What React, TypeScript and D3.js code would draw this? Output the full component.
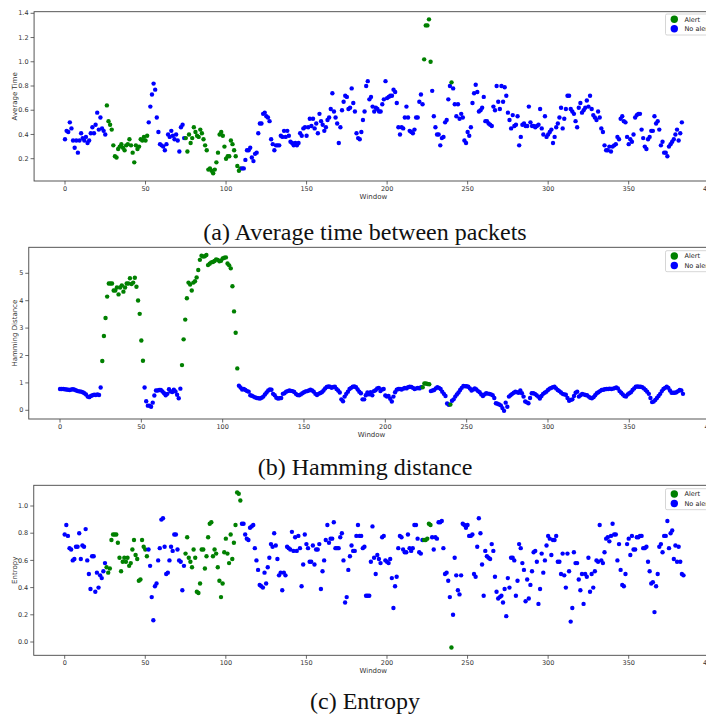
import React, { useEffect, useRef } from "react";
import * as d3 from "d3";

// values read per window from the three panels
const avgTime = [
  0.36, 0.43, 0.42, 0.50, 0.45, 0.35, 0.29, 0.35, 0.25, 0.35,
  0.41, 0.37, 0.35, 0.38, 0.33, 0.35, 0.41, 0.46, 0.41, 0.48,
  0.58, 0.44, 0.54, 0.45, 0.43, 0.40, 0.64, 0.51, 0.48, 0.44,
  0.31, 0.22, 0.21, 0.28, 0.30, 0.32, 0.29, 0.27, 0.31, 0.32,
  0.36, 0.31, 0.25, 0.17, 0.31, 0.28, 0.30, 0.36, 0.35, 0.38,
  0.35, 0.39, 0.50, 0.63, 0.73, 0.82, 0.77, 0.54, 0.42, 0.32,
  0.31, 0.30, 0.27, 0.32, 0.40, 0.38, 0.43, 0.39, 0.36, 0.40,
  0.35, 0.26, 0.46, 0.48, 0.37, 0.37, 0.26, 0.40, 0.33, 0.37,
  0.46, 0.42, 0.39, 0.38, 0.44, 0.41, 0.36, 0.31, 0.27, 0.11,
  0.12, 0.10, 0.08, 0.11, 0.17, 0.25, 0.40, 0.42, 0.39, 0.30,
  0.20, 0.22, 0.22, 0.35, 0.32, 0.27, 0.22, 0.14, 0.10, 0.12,
  0.12, 0.12, 0.19, 0.27, 0.27, 0.29, 0.21, 0.18, 0.24, 0.25,
  0.41, 0.49, 0.49, 0.57, 0.58, 0.55, 0.54, 0.51, 0.36, 0.32,
  0.27, 0.31, 0.31, 0.31, 0.39, 0.38, 0.43, 0.38, 0.43, 0.39,
  0.34, 0.33, 0.31, 0.33, 0.31, 0.33, 0.41, 0.39, 0.45, 0.46,
  0.39, 0.46, 0.53, 0.47, 0.53, 0.45, 0.49, 0.41, 0.57, 0.51,
  0.48, 0.43, 0.46, 0.52, 0.54, 0.61, 0.74, 0.59, 0.54, 0.49,
  0.33, 0.46, 0.60, 0.67, 0.72, 0.71, 0.61, 0.62, 0.78, 0.66,
  0.59, 0.41, 0.37, 0.36, 0.42, 0.52, 0.59, 0.80, 0.84, 0.69,
  0.71, 0.63, 0.59, 0.62, 0.61, 0.59, 0.59, 0.65, 0.69, 0.84,
  0.70, 0.71, 0.72, 0.72, 0.77, 0.75, 0.66, 0.46, 0.40, 0.46,
  0.45, 0.54, 0.63, 0.54, 0.43, 0.42, 0.41, 0.44, 0.54, 0.54,
  0.67, 0.73, 0.65, 1.02, 1.30, 1.30, 1.35, 1.00, 0.76, 0.55,
  0.46, 0.40, 0.40, 0.31, 0.37, 0.38, 0.50, 0.52, 0.69, 0.80,
  0.83, 0.78, 0.65, 0.55, 0.65, 0.53, 0.57, 0.54, 0.35, 0.33,
  0.42, 0.39, 0.46, 0.66, 0.74, 0.81, 0.75, 0.59, 0.60, 0.62,
  0.71, 0.51, 0.51, 0.49, 0.48, 0.47, 0.63, 0.60, 0.80, 0.67,
  0.61, 0.80, 0.67, 0.79, 0.72, 0.58, 0.52, 0.45, 0.56, 0.47,
  0.48, 0.55, 0.31, 0.38, 0.48, 0.49, 0.47, 0.47, 0.63, 0.50,
  0.47, 0.47, 0.46, 0.47, 0.48, 0.61, 0.45, 0.40, 0.55, 0.38,
  0.40, 0.42, 0.44, 0.33, 0.38, 0.46, 0.49, 0.54, 0.62, 0.45,
  0.53, 0.61, 0.72, 0.72, 0.61, 0.59, 0.57, 0.51, 0.46, 0.62,
  0.66, 0.58, 0.60, 0.62, 0.68, 0.63, 0.72, 0.61, 0.56, 0.54,
  0.52, 0.59, 0.54, 0.45, 0.42, 0.31, 0.27, 0.27, 0.30, 0.26,
  0.30, 0.31, 0.32, 0.38, 0.36, 0.53, 0.55, 0.51, 0.50, 0.38,
  0.32, 0.36, 0.34, 0.40, 0.54, 0.56, 0.57, 0.57, 0.44, 0.37,
  0.30, 0.28, 0.36, 0.38, 0.43, 0.43, 0.55, 0.49, 0.51, 0.44,
  0.31, 0.34, 0.25, 0.25, 0.22, 0.30, 0.32, 0.34, 0.36, 0.40,
  0.44, 0.35, 0.41, 0.50,
];

const hamming = [
  0.78, 0.78, 0.78, 0.77, 0.76, 0.75, 0.74, 0.76, 0.77, 0.75,
  0.72, 0.70, 0.69, 0.68, 0.66, 0.62, 0.58, 0.50, 0.48, 0.52,
  0.55, 0.57, 0.56, 0.58, 0.56, 0.83, 1.80, 2.71, 3.37, 4.15,
  4.63, 4.63, 4.63, 4.37, 4.37, 4.48, 4.23, 4.48, 4.56, 4.33,
  4.48, 4.63, 4.63, 4.82, 4.61, 4.66, 4.84, 4.51, 4.01, 3.52,
  2.55, 1.81, 0.83, 0.33, 0.17, 0.17, 0.13, 0.28, 0.54, 0.72,
  0.72, 0.74, 0.74, 0.69, 0.62, 0.55, 0.60, 0.77, 0.69, 0.67,
  0.75, 0.69, 0.57, 0.44, 0.79, 1.65, 2.59, 3.31, 4.09, 4.66,
  4.59, 4.37, 4.66, 4.71, 4.85, 5.12, 5.49, 5.64, 5.61, 5.62,
  5.67, 5.30, 5.35, 5.40, 5.41, 5.45, 5.51, 5.49, 5.44, 5.46,
  5.54, 5.57, 5.58, 5.36, 5.29, 5.18, 4.53, 3.61, 2.83, 1.53,
  0.90, 0.83, 0.76, 0.78, 0.74, 0.70, 0.68, 0.55, 0.53, 0.50,
  0.47, 0.45, 0.44, 0.43, 0.46, 0.50, 0.58, 0.65, 0.72, 0.76,
  0.75, 0.60, 0.55, 0.46, 0.43, 0.44, 0.45, 0.60, 0.62, 0.68,
  0.70, 0.72, 0.71, 0.70, 0.67, 0.60, 0.56, 0.55, 0.58, 0.62,
  0.66, 0.69, 0.70, 0.72, 0.75, 0.72, 0.68, 0.60, 0.56, 0.60,
  0.63, 0.66, 0.72, 0.80, 0.85, 0.87, 0.86, 0.82, 0.85, 0.86,
  0.78, 0.72, 0.65, 0.40, 0.33, 0.50, 0.60, 0.68, 0.78, 0.82,
  0.86, 0.87, 0.84, 0.76, 0.68, 0.62, 0.40, 0.40, 0.55, 0.65,
  0.58, 0.66, 0.55, 0.70, 0.73, 0.80, 0.82, 0.70, 0.76, 0.78,
  0.54, 0.50, 0.52, 0.42, 0.32, 0.50, 0.66, 0.75, 0.78, 0.78,
  0.76, 0.79, 0.82, 0.80, 0.84, 0.86, 0.85, 0.82, 0.78, 0.80,
  0.82, 0.80, 0.84, 0.84, 0.98, 0.98, 0.96, 0.95, 0.70, 0.72,
  0.74, 0.80, 0.84, 0.82, 0.78, 0.68, 0.60, 0.52, 0.25, 0.20,
  0.21, 0.35, 0.40, 0.50, 0.58, 0.65, 0.74, 0.82, 0.89, 0.88,
  0.88, 0.86, 0.80, 0.72, 0.76, 0.80, 0.76, 0.70, 0.66, 0.58,
  0.52, 0.58, 0.62, 0.61, 0.60, 0.58, 0.55, 0.45, 0.26, 0.24,
  0.21, 0.18, 0.08, -0.02, 0.28, 0.13, 0.50, 0.55, 0.60, 0.64,
  0.68, 0.66, 0.64, 0.72, 0.62, 0.50, 0.32, 0.29, 0.26, 0.45,
  0.62, 0.62, 0.60, 0.55, 0.50, 0.43, 0.52, 0.60, 0.64, 0.68,
  0.74, 0.79, 0.82, 0.84, 0.86, 0.80, 0.74, 0.70, 0.65, 0.60,
  0.58, 0.57, 0.45, 0.35, 0.38, 0.40, 0.52, 0.64, 0.68, 0.50,
  0.55, 0.60, 0.58, 0.56, 0.55, 0.50, 0.46, 0.44, 0.48, 0.55,
  0.62, 0.66, 0.70, 0.74, 0.75, 0.77, 0.78, 0.78, 0.79, 0.78,
  0.79, 0.81, 0.83, 0.80, 0.70, 0.64, 0.58, 0.52, 0.50, 0.58,
  0.62, 0.66, 0.74, 0.80, 0.86, 0.87, 0.86, 0.86, 0.84, 0.80,
  0.74, 0.68, 0.60, 0.45, 0.30, 0.32, 0.38, 0.45, 0.52, 0.60,
  0.70, 0.78, 0.82, 0.86, 0.82, 0.72, 0.64, 0.64, 0.64, 0.66,
  0.70, 0.74, 0.72, 0.60,
];

const entropy = [
  0.79, 0.86, 0.78, 0.69, 0.68, 0.60, 0.61, 0.70, 0.70, 0.80,
  0.61, 0.71, 0.70, 0.83, 0.60, 0.50, 0.39, 0.63, 0.63, 0.37,
  0.51, 0.40, 0.49, 0.47, 0.52, 0.58, 0.55, 0.51, 0.54, 0.75,
  0.79, 0.79, 0.79, 0.73, 0.62, 0.52, 0.59, 0.62, 0.59, 0.62,
  0.56, 0.58, 0.68, 0.75, 0.64, 0.61, 0.45, 0.46, 0.75, 0.70,
  0.68, 0.63, 0.68, 0.56, 0.33, 0.16, 0.41, 0.43, 0.60, 0.69,
  0.90, 0.91, 0.70, 0.50, 0.51, 0.60, 0.70, 0.67, 0.79, 0.79,
  0.68, 0.60, 0.59, 0.38, 0.56, 0.65, 0.77, 0.62, 0.59, 0.55,
  0.68, 0.62, 0.37, 0.36, 0.43, 0.68, 0.68, 0.54, 0.63, 0.77,
  0.87, 0.88, 0.63, 0.68, 0.65, 0.55, 0.45, 0.33, 0.43, 0.66,
  0.76, 0.65, 0.58, 0.79, 0.61, 0.73, 0.86, 1.10, 1.09, 1.04,
  0.87, 0.87, 0.79, 0.76, 0.75, 0.84, 0.85, 0.86, 0.69, 0.60,
  0.53, 0.42, 0.41, 0.40, 0.51, 0.43, 0.55, 0.62, 0.72, 0.70,
  0.80, 0.71, 0.61, 0.49, 0.51, 0.38, 0.51, 0.49, 0.70, 0.69,
  0.68, 0.81, 0.67, 0.77, 0.67, 0.78, 0.69, 0.41, 0.57, 0.79,
  0.72, 0.69, 0.59, 0.59, 0.71, 0.57, 0.68, 0.68, 0.72, 0.39,
  0.52, 0.60, 0.75, 0.86, 0.73, 0.76, 0.76, 0.88, 0.69, 0.69,
  0.69, 0.77, 0.80, 0.60, 0.29, 0.33, 0.53, 0.63, 0.71, 0.67,
  0.67, 0.78, 0.86, 0.78, 0.78, 0.69, 0.70, 0.34, 0.34, 0.34,
  0.59, 0.85, 0.62, 0.50, 0.64, 0.61, 0.58, 0.77, 0.78, 0.60,
  0.59, 0.58, 0.61, 0.47, 0.25, 0.41, 0.48, 0.69, 0.78, 0.77,
  0.68, 0.66, 0.66, 0.79, 0.69, 0.67, 0.69, 0.86, 0.86, 0.76,
  0.66, 0.65, 0.75, 0.75, 0.75, 0.76, 0.87, 0.86, 0.77, 0.68,
  0.77, 0.76, 0.88, 0.88, 0.89, 0.69, 0.50, 0.51, 0.45, 0.33,
  -0.04, 0.20, 0.62, 0.49, 0.38, 0.35, 0.49, 0.87, 0.86, 0.84,
  0.86, 0.78, 0.78, 0.79, 0.50, 0.48, 0.70, 0.91, 0.80, 0.57,
  0.34, 0.67, 0.63, 0.62, 0.61, 0.72, 0.67, 0.48, 0.37, 0.32,
  0.33, 0.34, 0.29, 0.39, 0.19, 0.47, 0.40, 0.62, 0.62, 0.60,
  0.34, 0.45, 0.72, 0.69, 0.58, 0.53, 0.30, 0.46, 0.32, 0.42,
  0.52, 0.66, 0.67, 0.59, 0.28, 0.39, 0.65, 0.51, 0.60, 0.71,
  0.78, 0.76, 0.64, 0.75, 0.75, 0.78, 0.59, 0.59, 0.50, 0.65,
  0.49, 0.40, 0.65, 0.52, 0.15, 0.25, 0.66, 0.58, 0.58, 0.46,
  0.38, 0.50, 0.28, 0.50, 0.48, 0.62, 0.37, 0.50, 0.40, 0.52,
  0.60, 0.59, 0.86, 0.60, 0.58, 0.66, 0.76, 0.77, 0.74, 0.78,
  0.87, 0.79, 0.79, 0.60, 0.72, 0.53, 0.42, 0.41, 0.50, 0.72,
  0.76, 0.64, 0.78, 0.68, 0.68, 0.77, 0.77, 0.78, 0.78, 0.69,
  0.69, 0.70, 0.59, 0.52, 0.43, 0.44, 0.22, 0.41, 0.50, 0.70,
  0.72, 0.66, 0.78, 0.78, 0.89, 0.69, 0.80, 0.82, 0.61, 0.71,
  0.59, 0.70, 0.59, 0.50, 0.49,
];

// windows flagged as alerts (inclusive ranges)
const alertRanges = [[26, 51], [75, 109], [223, 227], [240, 240]];

const xTicks = [0, 50, 100, 150, 200, 250, 300, 350, 400];
const avgTicks = [0.2, 0.4, 0.6, 0.8, 1.0, 1.2, 1.4];
const hamTicks = [0, 1, 2, 3, 4, 5];
const entTicks = [0.0, 0.2, 0.4, 0.6, 0.8, 1.0];
const legendLabels = ["Alert", "No alert"];
const yLabels = ["Average Time", "Hamming Distance", "Entropy"];
const captions = ["(a) Average time between packets", "(b) Hamming distance", "(c) Entropy"];

const GREEN = "#008000";
const BLUE = "#0000ff";

const isAlert = (i: number) => alertRanges.some(([a, b]) => i >= a && i <= b);

const App = () => {
  const svgRef = useRef<SVGSVGElement>(null);

  useEffect(() => {
    const svg = d3.select(svgRef.current);
    svg.selectAll("*").remove();

    const panels = [
      { values: avgTime, ticks: avgTicks, fmt: d3.format(".1f"), x0: 65, x350: 628.7, top: 11.7, bottom: 181, ya: [0.2, 158.7], yb: [1.4, 13.3], cap: 240, leg: 14 },
      { values: hamming, ticks: hamTicks, fmt: d3.format("d"), x0: 60, x350: 629.3, top: 247.3, bottom: 419, ya: [0, 410.3], yb: [5, 273.3], cap: 474.7, leg: 250.7 },
      { values: entropy, ticks: entTicks, fmt: d3.format(".1f"), x0: 64.7, x350: 628.7, top: 485.3, bottom: 655.3, ya: [0, 642], yb: [1, 506], cap: 708.7, leg: 488.7 },
    ];

    panels.forEach((p, k) => {
      const x = d3.scaleLinear().domain([0, 350]).range([p.x0, p.x350]);
      const y = d3.scaleLinear().domain([p.ya[0], p.yb[0]]).range([p.ya[1], p.yb[1]]);
      const left = x(-19.2);
      const right = x(402.2);
      const g = svg.append("g");

      // frame
      g.append("rect")
        .attr("x", left).attr("y", p.top)
        .attr("width", right - left).attr("height", p.bottom - p.top)
        .attr("fill", "white").attr("stroke", "#444").attr("stroke-width", 0.9);

      // x ticks
      const xt = g.selectAll(".xt").data(xTicks).join("g")
        .attr("transform", d => `translate(${x(d)},${p.bottom})`);
      xt.append("line").attr("y2", 3.5).attr("stroke", "#444").attr("stroke-width", 0.8);
      xt.append("text").text(d => d).attr("y", 9.5)
        .attr("text-anchor", "middle").attr("font-size", 6.5).attr("fill", "#333");

      // y ticks
      const yt = g.selectAll(".yt").data(p.ticks).join("g")
        .attr("transform", d => `translate(${left},${y(d)})`);
      yt.append("line").attr("x2", -3.5).attr("stroke", "#444").attr("stroke-width", 0.8);
      yt.append("text").text(d => p.fmt(d)).attr("x", -5.5).attr("dy", "0.33em")
        .attr("text-anchor", "end").attr("font-size", 6.5).attr("fill", "#333");

      g.append("text").text("Window")
        .attr("x", (left + right) / 2).attr("y", p.bottom + 17.5)
        .attr("text-anchor", "middle").attr("font-size", 7).attr("fill", "#333");

      g.append("text").text(yLabels[k])
        .attr("transform", `translate(16.5,${(p.top + p.bottom) / 2}) rotate(-90)`)
        .attr("text-anchor", "middle").attr("font-size", 7).attr("fill", "#333");

      // points
      const pts = p.values.map((v, i) => ({ i, v, alert: isAlert(i) }));
      g.selectAll(".pt").data(pts).join("circle")
        .attr("cx", d => x(d.i)).attr("cy", d => y(d.v)).attr("r", 2.2)
        .attr("fill", d => (d.alert ? GREEN : BLUE));

      // legend
      const lg = g.append("g").attr("transform", `translate(665.5,${p.leg})`);
      lg.append("rect").attr("width", 60).attr("height", 21).attr("rx", 1.5)
        .attr("fill", "white").attr("stroke", "#ccc").attr("stroke-width", 0.8);
      legendLabels.forEach((lbl, j) => {
        lg.append("circle").attr("cx", 8.8).attr("cy", 5.3 + j * 9.5).attr("r", 3.7)
          .attr("fill", j === 0 ? GREEN : BLUE);
        lg.append("text").text(lbl).attr("x", 19).attr("y", 7.6 + j * 9.5)
          .attr("font-size", 6.5).attr("fill", "#222");
      });

      // caption
      svg.append("text").text(captions[k])
        .attr("x", 365).attr("y", p.cap)
        .attr("text-anchor", "middle")
        .attr("font-family", "'Liberation Serif', 'Times New Roman', serif")
        .attr("font-size", 24).attr("fill", "#111");
    });
  }, []);

  return (
    <svg
      ref={svgRef}
      width={706}
      height={716}
      style={{ position: "absolute", left: 0, top: 0, background: "white", fontFamily: "'DejaVu Sans', sans-serif" }}
    />
  );
};

export default App;
